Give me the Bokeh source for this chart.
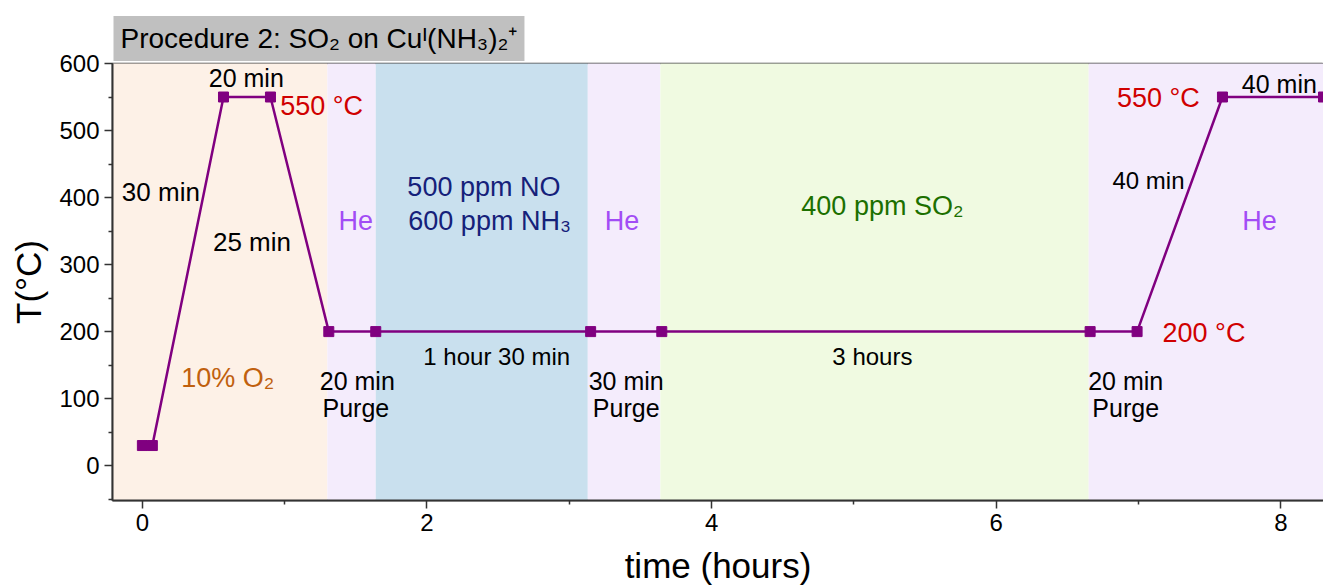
from bokeh.plotting import figure
from bokeh.models import ColumnDataSource, FixedTicker
from bokeh.core.properties import value
from bokeh.embed import file_html
from bokeh.resources import INLINE

# temperature program
time_h = [0.0, 0.07, 0.57, 0.90, 1.31, 1.64, 3.15, 3.65, 6.66, 6.99, 7.59, 8.30]
temp_c = [30, 30, 550, 550, 200, 200, 200, 200, 200, 200, 550, 550]

# gas atmosphere bands
band_left = [-0.25, 1.30, 1.64, 3.13, 3.64, 6.65]
band_right = [1.30, 1.64, 3.13, 3.64, 6.65, 8.40]
band_color = ["#FDF1E7", "#F4ECFC", "#C9E0EE", "#F4ECFC", "#F0FAE1", "#F4ECFC"]

# annotations
ann_text = ["20 min", "550 °C", "30 min", "25 min", "He", "500 ppm NO", "600 ppm NH₃",
            "He", "400 ppm SO₂", "He", "550 °C", "40 min", "40 min", "200 °C",
            "1 hour 30 min", "3 hours", "10% O₂",
            "20 min", "Purge", "30 min", "Purge", "20 min", "Purge"]
ann_x = [0.73, 1.26, 0.13, 0.77, 1.50, 2.40, 2.44,
         3.37, 5.20, 7.85, 7.14, 7.99, 7.07, 7.46,
         2.49, 5.13, 0.60,
         1.51, 1.50, 3.40, 3.40, 6.91, 6.91]
ann_y = [578, 537, 408, 334, 365, 416, 365,
         365, 388, 365, 549, 569, 425, 198,
         163, 163, 131,
         127, 86, 127, 86, 127, 86]
ann_color = ["black", "#D00000", "black", "black", "#A24CF5", "#15217A", "#15217A",
             "#A24CF5", "#1C7000", "#A24CF5", "#D00000", "black", "black", "#D00000",
             "black", "black", "#C0600E",
             "black", "black", "black", "black", "black", "black"]
ann_size = ["25px", "27px", "26px", "26px", "27px", "27px", "27px",
            "27px", "27px", "27px", "27px", "25px", "24px", "27px",
            "24px", "24px", "27px",
            "25px", "25px", "25px", "25px", "25px", "25px"]

p = figure(width=1323, height=587, x_range=(-0.21, 8.30), y_range=(-52, 600),
           output_backend="svg", toolbar_location=None,
           min_border_left=112, min_border_right=0, min_border_top=63, min_border_bottom=87)

p.title.text = "Procedure 2: SO₂ on Cuᴵ(NH₃)₂⁺"
p.title.text_font = "Liberation Sans"
p.title.text_font_size = "28px"
p.title.text_font_style = "normal"
p.title.text_color = "black"
p.title.align = "left"
p.title.offset = 1
p.title.background_fill_color = "#C0C0C0"
p.title.padding = 7
p.title.standoff = 5

p.quad(left=band_left, right=band_right, bottom=-60, top=610, color=band_color, line_color=None)

p.line(time_h, temp_c, line_color="#800080", line_width=2.5)
p.scatter(time_h, temp_c, marker="square", size=10, color="#800080")

src = ColumnDataSource(dict(text=ann_text, x=ann_x, y=ann_y, color=ann_color, size=ann_size))
p.text(x="x", y="y", text="text", text_color="color", text_font_size="size",
       text_align="center", text_baseline="middle", source=src,
       text_font=value("Liberation Sans"))

p.grid.visible = False
p.outline_line_color = "#444444"
p.outline_line_width = 1.5

p.xaxis.ticker = FixedTicker(ticks=[0, 2, 4, 6, 8], minor_ticks=[1, 3, 5, 7])
p.yaxis.ticker = FixedTicker(ticks=[0, 100, 200, 300, 400, 500, 600],
                             minor_ticks=[-50, 50, 150, 250, 350, 450, 550])
for ax in (p.xaxis, p.yaxis):
    ax.axis_line_color = "#333333"
    ax.axis_line_width = 2
    ax.major_tick_line_color = "#333333"
    ax.minor_tick_line_color = "#333333"
    ax.major_tick_line_width = 1.5
    ax.minor_tick_line_width = 1.5
    ax.major_tick_out = 8
    ax.major_tick_in = 0
    ax.minor_tick_out = 4
    ax.minor_tick_in = 0
    ax.major_label_text_font = "Liberation Sans"
    ax.major_label_text_font_size = "24px"
    ax.major_label_text_color = "black"
    ax.axis_label_text_font = "Liberation Sans"
    ax.axis_label_text_font_size = "35px"
    ax.axis_label_text_font_style = "normal"
    ax.axis_label_text_color = "black"

p.xaxis.axis_label = "time (hours)"
p.yaxis.axis_label = "T(°C)"
p.xaxis.axis_label_standoff = 12
p.xaxis.axis_label_text_line_height = 0.7
p.yaxis.axis_label_standoff = 8

open("out.html", "w").write(file_html(p, INLINE))
